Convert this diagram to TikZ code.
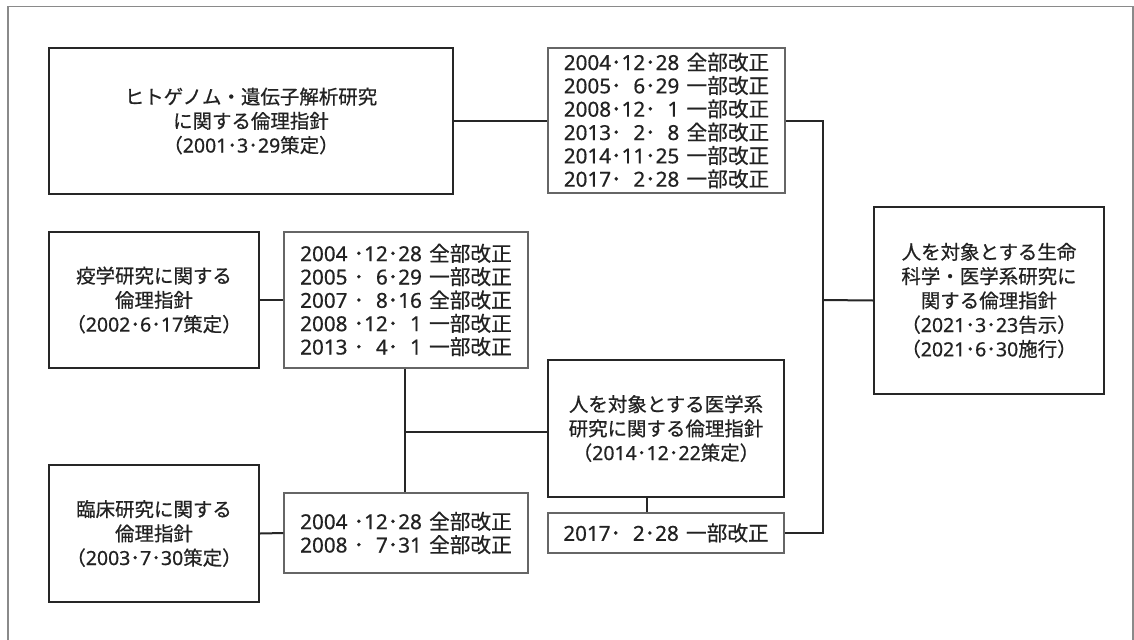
\documentclass[tikz,border=0pt]{standalone}
\usepackage{fontspec}
\setmainfont[FakeBold=0.6]{Noto Sans CJK JP}
\newfontfamily\dig[FakeBold=0.6]{Noto Sans}
\definecolor{txt}{HTML}{222222}
\definecolor{boxc}{HTML}{262626}
\definecolor{revc}{HTML}{666666}
\definecolor{framec}{HTML}{8A8A8A}
\newcommand\rvl[5]{{\dig #1}\hspace{#2}･{\dig\makebox[1.15em][r]{#3}}･{\dig\makebox[1.15em][r]{#4}}\hspace{0.35em}#5}
\newcommand\dt[3]{{\dig #1}･{\dig #2}･{\dig #3}}
\begin{document}
\begin{tikzpicture}[x=0.75pt,y=-0.75pt,
  main/.style={draw=boxc, line width=1.4pt, inner sep=0pt, align=center, text=txt, font=\fontsize{14.6}{18.2}\selectfont},
  rev/.style={draw=revc, line width=0.9pt, inner sep=0pt, align=left, text=txt, font=\fontsize{15.5}{17.5}\selectfont},
  conn/.style={draw=boxc, line width=1.5pt},
  frame/.style={draw=framec, line width=1.1pt}]
\useasboundingbox (0,0) rectangle (1134,639);
\fill[white] (0,0) rectangle (1134,639);
\draw[frame] (8,650) -- (8,6.5) -- (1133,6.5) -- (1133,650);

\node[main, minimum width=303pt, minimum height=109.5pt] (A) at (251,121)
  {ヒトゲノム・遺伝子解析研究\\に関する倫理指針\\（\dt{2001}{3}{29}策定）};
\node[rev, minimum width=177.75pt, minimum height=108.75pt] (Arev) at (666.5,120.5)
  {\rvl{2004}{0pt}{12}{28}{全部改正}\\
   \rvl{2005}{0pt}{6}{29}{一部改正}\\
   \rvl{2008}{0pt}{12}{1}{一部改正}\\
   \rvl{2013}{0pt}{2}{8}{全部改正}\\
   \rvl{2014}{0pt}{11}{25}{一部改正}\\
   \rvl{2017}{0pt}{2}{28}{一部改正}};

\node[main, minimum width=157.5pt, minimum height=102pt] (B) at (154,300)
  {疫学研究に関する\\倫理指針\\（\dt{2002}{6}{17}策定）};
\node[rev, minimum width=183pt, minimum height=102pt] (Brev) at (406,300)
  {\rvl{2004}{0.3em}{12}{28}{全部改正}\\
   \rvl{2005}{0.3em}{6}{29}{一部改正}\\
   \rvl{2007}{0.3em}{8}{16}{全部改正}\\
   \rvl{2008}{0.3em}{12}{1}{一部改正}\\
   \rvl{2013}{0.3em}{4}{1}{一部改正}};

\node[main, minimum width=157.5pt, minimum height=102.75pt] (C) at (154,533.5)
  {臨床研究に関する\\倫理指針\\（\dt{2003}{7}{30}策定）};
\node[rev, minimum width=183pt, minimum height=60pt] (Crev) at (406,533)
  {\rvl{2004}{0.3em}{12}{28}{全部改正}\\
   \rvl{2008}{0.3em}{7}{31}{全部改正}};

\node[main, minimum width=177pt, minimum height=102.75pt] (D) at (666,428.5)
  {人を対象とする医学系\\研究に関する倫理指針\\（\dt{2014}{12}{22}策定）};
\node[rev, minimum width=177pt, minimum height=30pt] (Drev) at (666,533)
  {\rvl{2017}{0pt}{2}{28}{一部改正}};

\node[main, minimum width=172.5pt, minimum height=140.25pt] (E) at (989,300.5)
  {人を対象とする生命\\科学・医学系研究に\\関する倫理指針\\（\dt{2021}{3}{23}告示）\\（\dt{2021}{6}{30}施行）};

\coordinate (J) at (823,300);
\coordinate (K) at (405,432);
\coordinate (L) at (647,0);

\draw[conn] (A.east) -- (A.east -| Arev.west);
\draw[conn] (Arev.east) -| (J) |- (Drev.east);
\draw[conn] (J) -- (E.west);
\draw[conn] (B.east) -- (Brev.west);
\draw[conn] (C.east) -- (Crev.west);
\draw[conn] (Brev.south -| K) -- (Crev.north -| K);
\draw[conn] (K) -- (K -| D.west);
\draw[conn] (D.south -| L) -- (Drev.north -| L);
\end{tikzpicture}
\end{document}
